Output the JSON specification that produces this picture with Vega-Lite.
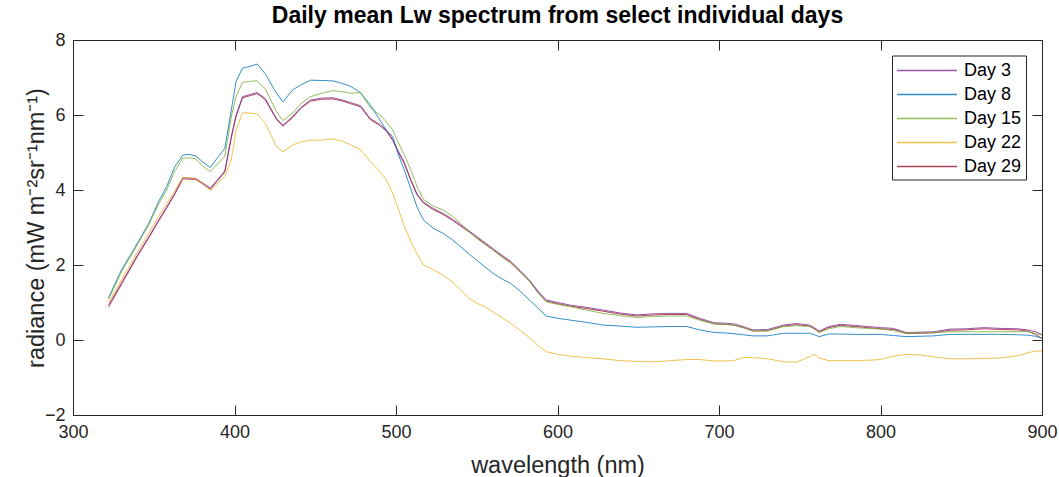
{
  "$schema": "https://vega.github.io/schema/vega-lite/v6.json",
  "width": 969,
  "height": 375,
  "autosize": "none",
  "padding": {"left": 73, "top": 40, "right": 17, "bottom": 62},
  "background": "white",
  "title": {"text": "Daily mean Lw spectrum from select individual days", "font": "Liberation Sans", "fontSize": 23, "fontWeight": "bold", "color": "#000000", "offset": 3, "anchor": "middle"},
  "config": {
    "view": {"stroke": null},
    "axis": {"grid": false, "domainColor": "#262626", "tickColor": "#262626", "domainWidth": 1, "tickWidth": 1, "labelFont": "Liberation Sans", "labelFontSize": 18, "labelColor": "#262626", "labelFlush": false, "titleFont": "Liberation Sans", "titleFontSize": 23.5, "titleFontWeight": "normal", "titleColor": "#262626"}
  },
  "data": {"values": [
    {"w":322,"Day 3":0.93,"Day 8":1.12,"Day 15":1.08,"Day 22":0.98,"Day 29":0.88},
    {"w":330,"Day 3":1.52,"Day 8":1.87,"Day 15":1.82,"Day 22":1.6,"Day 29":1.48},
    {"w":340,"Day 3":2.27,"Day 8":2.59,"Day 15":2.55,"Day 22":2.35,"Day 29":2.24},
    {"w":347,"Day 3":2.76,"Day 8":3.12,"Day 15":3.08,"Day 22":2.85,"Day 29":2.73},
    {"w":353,"Day 3":3.2,"Day 8":3.69,"Day 15":3.62,"Day 22":3.3,"Day 29":3.17},
    {"w":358,"Day 3":3.55,"Day 8":4.09,"Day 15":4.0,"Day 22":3.64,"Day 29":3.52},
    {"w":363,"Day 3":3.91,"Day 8":4.62,"Day 15":4.5,"Day 22":3.98,"Day 29":3.88},
    {"w":368,"Day 3":4.33,"Day 8":4.93,"Day 15":4.85,"Day 22":4.33,"Day 29":4.3},
    {"w":372,"Day 3":4.32,"Day 8":4.95,"Day 15":4.86,"Day 22":4.33,"Day 29":4.29},
    {"w":376,"Day 3":4.31,"Day 8":4.91,"Day 15":4.83,"Day 22":4.3,"Day 29":4.28},
    {"w":380,"Day 3":4.2,"Day 8":4.76,"Day 15":4.65,"Day 22":4.2,"Day 29":4.17},
    {"w":385,"Day 3":4.05,"Day 8":4.6,"Day 15":4.49,"Day 22":3.98,"Day 29":4.02},
    {"w":390,"Day 3":4.3,"Day 8":4.89,"Day 15":4.72,"Day 22":4.2,"Day 29":4.27},
    {"w":394,"Day 3":4.51,"Day 8":5.11,"Day 15":4.89,"Day 22":4.37,"Day 29":4.48},
    {"w":398,"Day 3":5.42,"Day 8":6.13,"Day 15":5.95,"Day 22":4.8,"Day 29":5.39},
    {"w":401,"Day 3":6.0,"Day 8":6.9,"Day 15":6.5,"Day 22":5.6,"Day 29":5.97},
    {"w":405,"Day 3":6.49,"Day 8":7.25,"Day 15":6.87,"Day 22":6.06,"Day 29":6.46},
    {"w":410,"Day 3":6.55,"Day 8":7.3,"Day 15":6.9,"Day 22":6.05,"Day 29":6.52},
    {"w":414,"Day 3":6.6,"Day 8":7.36,"Day 15":6.91,"Day 22":6.03,"Day 29":6.57},
    {"w":419,"Day 3":6.44,"Day 8":7.1,"Day 15":6.7,"Day 22":5.78,"Day 29":6.41},
    {"w":426,"Day 3":5.91,"Day 8":6.58,"Day 15":6.09,"Day 22":5.16,"Day 29":5.88},
    {"w":430,"Day 3":5.73,"Day 8":6.35,"Day 15":5.85,"Day 22":5.02,"Day 29":5.7},
    {"w":436,"Day 3":5.96,"Day 8":6.67,"Day 15":6.05,"Day 22":5.2,"Day 29":5.93},
    {"w":441,"Day 3":6.2,"Day 8":6.8,"Day 15":6.3,"Day 22":5.28,"Day 29":6.17},
    {"w":447,"Day 3":6.4,"Day 8":6.93,"Day 15":6.49,"Day 22":5.33,"Day 29":6.37},
    {"w":454,"Day 3":6.45,"Day 8":6.92,"Day 15":6.58,"Day 22":5.33,"Day 29":6.42},
    {"w":461,"Day 3":6.46,"Day 8":6.91,"Day 15":6.65,"Day 22":5.36,"Day 29":6.43},
    {"w":467,"Day 3":6.4,"Day 8":6.84,"Day 15":6.62,"Day 22":5.3,"Day 29":6.37},
    {"w":472,"Day 3":6.33,"Day 8":6.76,"Day 15":6.58,"Day 22":5.2,"Day 29":6.3},
    {"w":478,"Day 3":6.25,"Day 8":6.6,"Day 15":6.6,"Day 22":5.08,"Day 29":6.22},
    {"w":484,"Day 3":5.91,"Day 8":6.27,"Day 15":6.2,"Day 22":4.76,"Day 29":5.88},
    {"w":490,"Day 3":5.75,"Day 8":5.87,"Day 15":6.0,"Day 22":4.5,"Day 29":5.72},
    {"w":494,"Day 3":5.6,"Day 8":5.6,"Day 15":5.82,"Day 22":4.27,"Day 29":5.57},
    {"w":498,"Day 3":5.35,"Day 8":5.42,"Day 15":5.6,"Day 22":3.91,"Day 29":5.32},
    {"w":501,"Day 3":5.07,"Day 8":5.0,"Day 15":5.3,"Day 22":3.55,"Day 29":5.04},
    {"w":505,"Day 3":4.75,"Day 8":4.55,"Day 15":4.95,"Day 22":3.05,"Day 29":4.72},
    {"w":509,"Day 3":4.3,"Day 8":4.05,"Day 15":4.55,"Day 22":2.65,"Day 29":4.27},
    {"w":513,"Day 3":3.9,"Day 8":3.55,"Day 15":4.1,"Day 22":2.3,"Day 29":3.87},
    {"w":517,"Day 3":3.68,"Day 8":3.2,"Day 15":3.75,"Day 22":2.0,"Day 29":3.65},
    {"w":523,"Day 3":3.51,"Day 8":2.98,"Day 15":3.57,"Day 22":1.88,"Day 29":3.48},
    {"w":529,"Day 3":3.38,"Day 8":2.85,"Day 15":3.47,"Day 22":1.73,"Day 29":3.35},
    {"w":535,"Day 3":3.22,"Day 8":2.67,"Day 15":3.3,"Day 22":1.55,"Day 29":3.19},
    {"w":540,"Day 3":3.07,"Day 8":2.49,"Day 15":3.11,"Day 22":1.33,"Day 29":3.04},
    {"w":545,"Day 3":2.92,"Day 8":2.3,"Day 15":2.9,"Day 22":1.12,"Day 29":2.89},
    {"w":550,"Day 3":2.76,"Day 8":2.13,"Day 15":2.71,"Day 22":0.98,"Day 29":2.73},
    {"w":555,"Day 3":2.6,"Day 8":1.95,"Day 15":2.55,"Day 22":0.89,"Day 29":2.57},
    {"w":560,"Day 3":2.44,"Day 8":1.78,"Day 15":2.4,"Day 22":0.75,"Day 29":2.41},
    {"w":566,"Day 3":2.25,"Day 8":1.62,"Day 15":2.2,"Day 22":0.58,"Day 29":2.22},
    {"w":571,"Day 3":2.1,"Day 8":1.51,"Day 15":2.05,"Day 22":0.45,"Day 29":2.07},
    {"w":577,"Day 3":1.85,"Day 8":1.3,"Day 15":1.8,"Day 22":0.25,"Day 29":1.82},
    {"w":583,"Day 3":1.58,"Day 8":1.05,"Day 15":1.55,"Day 22":0.05,"Day 29":1.55},
    {"w":588,"Day 3":1.3,"Day 8":0.85,"Day 15":1.25,"Day 22":-0.15,"Day 29":1.27},
    {"w":593,"Day 3":1.07,"Day 8":0.64,"Day 15":1.02,"Day 22":-0.31,"Day 29":1.04},
    {"w":600,"Day 3":1.0,"Day 8":0.58,"Day 15":0.95,"Day 22":-0.38,"Day 29":0.97},
    {"w":608,"Day 3":0.93,"Day 8":0.53,"Day 15":0.89,"Day 22":-0.43,"Day 29":0.9},
    {"w":618,"Day 3":0.87,"Day 8":0.47,"Day 15":0.8,"Day 22":-0.47,"Day 29":0.84},
    {"w":628,"Day 3":0.8,"Day 8":0.4,"Day 15":0.71,"Day 22":-0.5,"Day 29":0.77},
    {"w":639,"Day 3":0.72,"Day 8":0.37,"Day 15":0.65,"Day 22":-0.55,"Day 29":0.69},
    {"w":649,"Day 3":0.67,"Day 8":0.34,"Day 15":0.6,"Day 22":-0.57,"Day 29":0.64},
    {"w":660,"Day 3":0.7,"Day 8":0.35,"Day 15":0.63,"Day 22":-0.58,"Day 29":0.67},
    {"w":670,"Day 3":0.71,"Day 8":0.36,"Day 15":0.64,"Day 22":-0.55,"Day 29":0.68},
    {"w":680,"Day 3":0.71,"Day 8":0.36,"Day 15":0.64,"Day 22":-0.52,"Day 29":0.68},
    {"w":688,"Day 3":0.58,"Day 8":0.27,"Day 15":0.53,"Day 22":-0.52,"Day 29":0.55},
    {"w":697,"Day 3":0.46,"Day 8":0.2,"Day 15":0.43,"Day 22":-0.56,"Day 29":0.43},
    {"w":703,"Day 3":0.45,"Day 8":0.19,"Day 15":0.42,"Day 22":-0.56,"Day 29":0.42},
    {"w":709,"Day 3":0.43,"Day 8":0.17,"Day 15":0.4,"Day 22":-0.55,"Day 29":0.4},
    {"w":715,"Day 3":0.36,"Day 8":0.14,"Day 15":0.33,"Day 22":-0.47,"Day 29":0.33},
    {"w":721,"Day 3":0.27,"Day 8":0.11,"Day 15":0.25,"Day 22":-0.47,"Day 29":0.24},
    {"w":730,"Day 3":0.28,"Day 8":0.11,"Day 15":0.24,"Day 22":-0.5,"Day 29":0.25},
    {"w":740,"Day 3":0.4,"Day 8":0.18,"Day 15":0.36,"Day 22":-0.58,"Day 29":0.37},
    {"w":748,"Day 3":0.44,"Day 8":0.18,"Day 15":0.38,"Day 22":-0.59,"Day 29":0.41},
    {"w":756,"Day 3":0.4,"Day 8":0.18,"Day 15":0.36,"Day 22":-0.45,"Day 29":0.37},
    {"w":759,"Day 3":0.33,"Day 8":0.14,"Day 15":0.29,"Day 22":-0.38,"Day 29":0.3},
    {"w":762,"Day 3":0.24,"Day 8":0.09,"Day 15":0.2,"Day 22":-0.48,"Day 29":0.21},
    {"w":768,"Day 3":0.36,"Day 8":0.16,"Day 15":0.3,"Day 22":-0.55,"Day 29":0.33},
    {"w":775,"Day 3":0.42,"Day 8":0.16,"Day 15":0.36,"Day 22":-0.55,"Day 29":0.39},
    {"w":784,"Day 3":0.39,"Day 8":0.15,"Day 15":0.33,"Day 22":-0.55,"Day 29":0.36},
    {"w":792,"Day 3":0.36,"Day 8":0.15,"Day 15":0.31,"Day 22":-0.54,"Day 29":0.33},
    {"w":800,"Day 3":0.33,"Day 8":0.15,"Day 15":0.29,"Day 22":-0.52,"Day 29":0.3},
    {"w":808,"Day 3":0.31,"Day 8":0.12,"Day 15":0.25,"Day 22":-0.43,"Day 29":0.28},
    {"w":816,"Day 3":0.2,"Day 8":0.09,"Day 15":0.18,"Day 22":-0.38,"Day 29":0.17},
    {"w":825,"Day 3":0.21,"Day 8":0.1,"Day 15":0.19,"Day 22":-0.4,"Day 29":0.18},
    {"w":833,"Day 3":0.22,"Day 8":0.11,"Day 15":0.2,"Day 22":-0.45,"Day 29":0.19},
    {"w":843,"Day 3":0.29,"Day 8":0.15,"Day 15":0.22,"Day 22":-0.5,"Day 29":0.26},
    {"w":853,"Day 3":0.3,"Day 8":0.15,"Day 15":0.22,"Day 22":-0.5,"Day 29":0.27},
    {"w":864,"Day 3":0.33,"Day 8":0.15,"Day 15":0.22,"Day 22":-0.49,"Day 29":0.3},
    {"w":874,"Day 3":0.31,"Day 8":0.15,"Day 15":0.22,"Day 22":-0.48,"Day 29":0.28},
    {"w":885,"Day 3":0.3,"Day 8":0.14,"Day 15":0.22,"Day 22":-0.42,"Day 29":0.27},
    {"w":891,"Day 3":0.27,"Day 8":0.13,"Day 15":0.22,"Day 22":-0.34,"Day 29":0.24},
    {"w":896,"Day 3":0.22,"Day 8":0.1,"Day 15":0.18,"Day 22":-0.3,"Day 29":0.15},
    {"w":900,"Day 3":0.15,"Day 8":0.05,"Day 15":0.13,"Day 22":-0.29,"Day 29":0.04}
  ]},
  "transform": [{"fold": ["Day 29", "Day 3", "Day 8", "Day 15", "Day 22"], "as": ["day", "radiance"]}],
  "layer": [
    {
      "mark": {"type": "line", "strokeWidth": 1, "opacity": 0.8, "clip": true},
      "encoding": {
        "x": {"field": "w", "type": "quantitative", "scale": {"domain": [300, 900], "nice": false, "zero": false},
              "axis": {"title": "wavelength (nm)", "values": [300, 400, 500, 600, 700, 800, 900], "tickSize": -10, "labelPadding": 18, "titlePadding": 12}},
        "y": {"field": "radiance", "type": "quantitative", "scale": {"domain": [-2, 8], "nice": false, "zero": false},
              "axis": {"title": "radiance (mW m⁻²sr⁻¹nm⁻¹)", "values": [-2, 0, 2, 4, 6, 8], "tickSize": -10, "labelPadding": 18, "titlePadding": -4}},
        "color": {"field": "day", "type": "nominal",
                  "scale": {"domain": ["Day 3", "Day 8", "Day 15", "Day 22", "Day 29"], "range": ["#7E2F8E", "#0072BD", "#77AC30", "#EDB120", "#A2142F"]},
                  "legend": {"title": null, "orient": "none", "legendX": 819, "legendY": 15.5, "symbolType": "M-1,0H5", "symbolSize": 400, "symbolStrokeWidth": 1.3, "labelFont": "Liberation Sans", "labelFontSize": 18, "labelColor": "#000000", "strokeColor": "#262626", "fillColor": "white", "padding": 4, "rowPadding": 4, "labelOffset": 46,
                             "encode": {"symbols": {"update": {"stroke": {"signal": "scale('color', datum.value)"}, "strokeOpacity": {"value": 0.85}, "fill": {"value": "transparent"}}}}}}
      }
    },
    {
      "mark": {"type": "line", "opacity": 0},
      "encoding": {
        "x": {"field": "w", "type": "quantitative", "axis": {"orient": "top", "title": null, "labels": false, "values": [300, 400, 500, 600, 700, 800, 900], "tickSize": -10}},
        "y": {"field": "radiance", "type": "quantitative", "axis": {"orient": "right", "title": null, "labels": false, "values": [-2, 0, 2, 4, 6, 8], "tickSize": -10}},
        "detail": {"field": "day"}
      }
    }
  ],
  "resolve": {"axis": {"x": "independent", "y": "independent"}}
}
